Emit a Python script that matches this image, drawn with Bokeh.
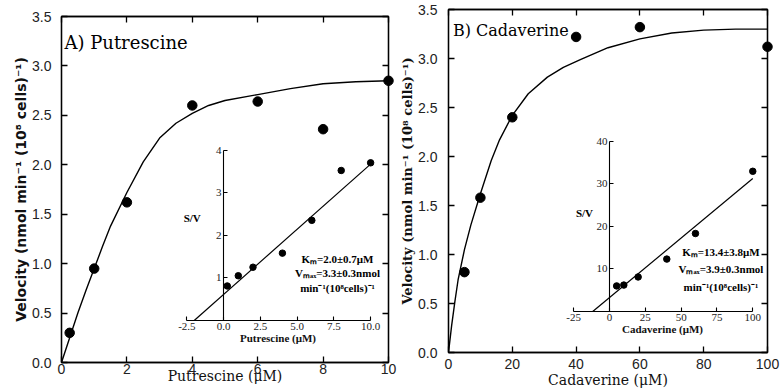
from bokeh.plotting import figure
from bokeh.layouts import row, column
from bokeh.models import LinearAxis, FixedTicker, NumeralTickFormatter, Range1d
from bokeh.embed import file_html
from bokeh.resources import INLINE
from bokeh.core.properties import value

# ---- (A) putrescine uptake -------------------------------------------
put_conc = [0.25, 1, 2, 4, 6, 8, 10]
put_vel = [0.30, 0.95, 1.62, 2.60, 2.64, 2.36, 2.85]
put_fit_x = [0, 0.25, 0.5, 0.75, 1, 1.25, 1.5, 2, 2.5, 3, 3.5, 4, 4.5, 5, 6, 7, 8, 9, 10]
put_fit_y = [0, 0.25, 0.50, 0.73, 0.95, 1.17, 1.38, 1.72, 2.03, 2.27, 2.42, 2.52,
             2.60, 2.65, 2.71, 2.77, 2.82, 2.84, 2.85]
# Hanes-Woolf plot (S/V against S)
put_sv = [0.81, 1.05, 1.25, 1.58, 2.35, 3.52, 3.70]
put_line_x = [-2.0, 10.0]
put_line_y = [0.0, 3.67]
put_notes = ["Kₘ=2.0±0.7μM", "Vₘₐₓ=3.3±0.3nmol", "min⁻¹(10⁸cells)⁻¹"]

# ---- (B) cadaverine uptake -------------------------------------------
cad_conc = [5, 10, 20, 40, 60, 100]
cad_vel = [0.82, 1.58, 2.40, 3.22, 3.32, 3.12]
cad_fit_x = [0, 1, 2, 3, 5, 7, 10, 13.4, 16, 20, 25, 31, 36, 41.5, 50, 60, 70, 80,
             90, 100]
cad_fit_y = [0, 0.28, 0.52, 0.74, 1.05, 1.30, 1.62, 1.96, 2.17, 2.42, 2.64, 2.81,
             2.91, 2.99, 3.11, 3.20, 3.26, 3.29, 3.30, 3.30]
cad_sv = [6.0, 6.2, 8.1, 12.3, 18.3, 32.9]
cad_line_x = [-11.7, 100.0]
cad_line_y = [0.0, 31.2]
cad_notes = ["Kₘ=13.4±3.8μM", "Vₘₐₓ=3.9±0.3nmol", "min⁻¹(10⁸cells)⁻¹"]

# ---- ticks --------------------------------------------------------------
vel_ticks = [0, 0.5, 1.0, 1.5, 2.0, 2.5, 3.0, 3.5]
put_ticks = [0, 2, 4, 6, 8, 10]
cad_ticks = [0, 20, 40, 60, 80, 100]
put_inset_xticks = [-2.5, 0, 2.5, 5, 7.5, 10]
put_inset_yticks = [1, 2, 3, 4]
cad_inset_xticks = [-25, 0, 25, 50, 75, 100]
cad_inset_yticks = [10, 20, 30, 40]

VEL_LABEL = "Velocity (nmol min⁻¹ (10⁸ cells)⁻¹)"
TICK_FONT = "Liberation Sans"
SERIF = "DejaVu Serif"
NOTE_FONT = "Liberation Serif"


def inward(ax, length=6, width=1.3):
    ax.major_tick_in = length
    ax.major_tick_out = 0
    ax.minor_tick_line_color = None
    ax.axis_line_width = width
    ax.major_tick_line_width = width
    ax.axis_line_color = "black"
    ax.major_tick_line_color = "black"


def main_panel(width, borders, x_end, x_ticks, x_label, y_label_font,
               y_label_size, std_x, std_y):
    left, right, top, bottom = borders
    p = figure(width=width, height=392, x_range=Range1d(0, x_end),
               y_range=Range1d(0, 3.5), output_backend="svg",
               toolbar_location=None, min_border_left=left,
               min_border_right=right, min_border_top=top,
               min_border_bottom=bottom)
    p.grid.visible = False
    p.outline_line_color = "black"
    p.outline_line_width = 1.3
    p.background_fill_color = "white"
    p.border_fill_color = "white"

    xa, ya = p.xaxis[0], p.yaxis[0]
    xa.ticker = FixedTicker(ticks=x_ticks)
    ya.ticker = FixedTicker(ticks=vel_ticks)
    ya.formatter = NumeralTickFormatter(format="0.0")
    for ax in (xa, ya):
        inward(ax)
        ax.major_label_text_font = TICK_FONT
        ax.major_label_text_font_size = "14px"
        ax.major_label_text_color = "#222222"
    xa.major_label_standoff = std_x[0]
    ya.major_label_standoff = std_y

    xa.axis_label = x_label
    xa.axis_label_text_font = SERIF
    xa.axis_label_text_font_style = "normal"
    xa.axis_label_text_font_size = "14px"
    xa.axis_label_text_color = "#111111"
    xa.axis_label_standoff = std_x[1]

    ya.axis_label = VEL_LABEL
    ya.axis_label_text_font = y_label_font
    ya.axis_label_text_font_style = "bold"
    ya.axis_label_text_font_size = y_label_size
    ya.axis_label_text_color = "#111111"
    ya.axis_label_standoff = 0

    # inward ticks on the top and right edges of the box as well (no labels)
    top_ax = LinearAxis(ticker=FixedTicker(ticks=x_ticks),
                        major_label_text_font_size="1px",
                        major_label_text_color=None, major_label_standoff=0)
    right_ax = LinearAxis(ticker=FixedTicker(ticks=vel_ticks),
                          major_label_text_font_size="1px",
                          major_label_text_color=None, major_label_standoff=0)
    inward(top_ax)
    inward(right_ax)
    p.add_layout(top_ax, "above")
    p.add_layout(right_ax, "right")
    return p


def inset_panel(width, x_range, x_bounds, y_range, y_end, x_ticks, y_ticks,
                x_fmt, x_label):
    q = figure(width=width, height=225, x_range=Range1d(*x_range),
               y_range=Range1d(0, y_range), output_backend="svg",
               toolbar_location=None, min_border_left=38, min_border_right=15,
               min_border_top=16, min_border_bottom=30)
    q.grid.visible = False
    q.outline_line_color = None
    q.background_fill_color = None
    q.border_fill_color = None

    xa, ya = q.xaxis[0], q.yaxis[0]
    xa.ticker = FixedTicker(ticks=x_ticks)
    xa.formatter = NumeralTickFormatter(format=x_fmt)
    xa.bounds = x_bounds
    ya.ticker = FixedTicker(ticks=y_ticks)
    ya.bounds = (0, y_end)
    ya.fixed_location = 0
    for ax in (xa, ya):
        inward(ax, 4, 1.1)
        ax.major_label_text_font = NOTE_FONT
        ax.major_label_text_font_size = "11px"
        ax.major_label_text_color = "#222222"
        ax.major_label_standoff = 2
    xa.axis_label = x_label
    xa.axis_label_text_font = NOTE_FONT
    xa.axis_label_text_font_style = "bold"
    xa.axis_label_text_font_size = "11px"
    xa.axis_label_text_color = "#111111"
    xa.axis_label_standoff = -1
    return q


def notes(p, x, ys, lines):
    p.text(x=[x] * len(lines), y=ys, text=lines, text_align="center",
           text_baseline="middle", text_font=value(NOTE_FONT),
           text_font_style="bold", text_font_size="11px", text_color="black")


def sv_label(q, x, y):
    q.text(x=[x], y=[y], text=["S/V"], text_align="right", text_baseline="middle",
           text_font=value(NOTE_FONT), text_font_style="bold",
           text_font_size="11px", text_color="black")


# ---- panel A ----------------------------------------------------------------
pa = main_panel(397, (61, 9, 16, 30), 10, put_ticks, "Putrescine (μM)",
                "DejaVu Sans", "14px", (1, -9), 10)
pa.line(put_fit_x, put_fit_y, line_color="black", line_width=1.4)
pa.scatter(put_conc, put_vel, size=9.5, color="black", level="overlay")
pa.text(x=[0.09], y=[3.24], text=["A) Putrescine"], text_font=value(SERIF),
        text_font_size="18px", text_baseline="alphabetic", text_color="black")
notes(pa, 8.44, [1.052, 0.91, 0.758], put_notes)

ia = inset_panel(250, (-3.0, 10.4), (-2.5, 10), 4.2, 4, put_inset_xticks,
                 put_inset_yticks, "0.0", "Putrescine (μM)")
ia.line(put_line_x, put_line_y, line_color="black", line_width=1.2)
ia.scatter(put_conc, put_sv, size=6.5, color="black")
sv_label(ia, -1.55, 2.4)
ia.margin = (125, 6, 0, -256)

# ---- panel B ----------------------------------------------------------------
pb = main_panel(386, (50, 16, 9, 40), 100, cad_ticks, "Cadaverine (μM)",
                SERIF, "13px", (6, 0), 11)
pb.line(cad_fit_x, cad_fit_y, line_color="black", line_width=1.4)
pb.scatter(cad_conc, cad_vel, size=9.5, color="black", level="overlay")
pb.text(x=[1.4], y=[3.29], text=["B) Cadaverine"], text_font=value(SERIF),
        text_font_size="16px", text_baseline="alphabetic", text_color="black")
notes(pb, 85.4, [1.024, 0.848, 0.667], cad_notes)

ib = inset_panel(245, (-30, 104), (-25, 100), 42, 40, cad_inset_xticks,
                 cad_inset_yticks, "0", "Cadaverine (μM)")
ib.line(cad_line_x, cad_line_y, line_color="black", line_width=1.2)
ib.scatter(cad_conc, cad_sv, size=6.5, color="black")
sv_label(ib, -11.5, 23.2)
ib.margin = (116, 10, 0, -255)

layout = row(column(pa), ia, column(pb), ib)
open("out.html", "w").write(file_html(layout, INLINE))
